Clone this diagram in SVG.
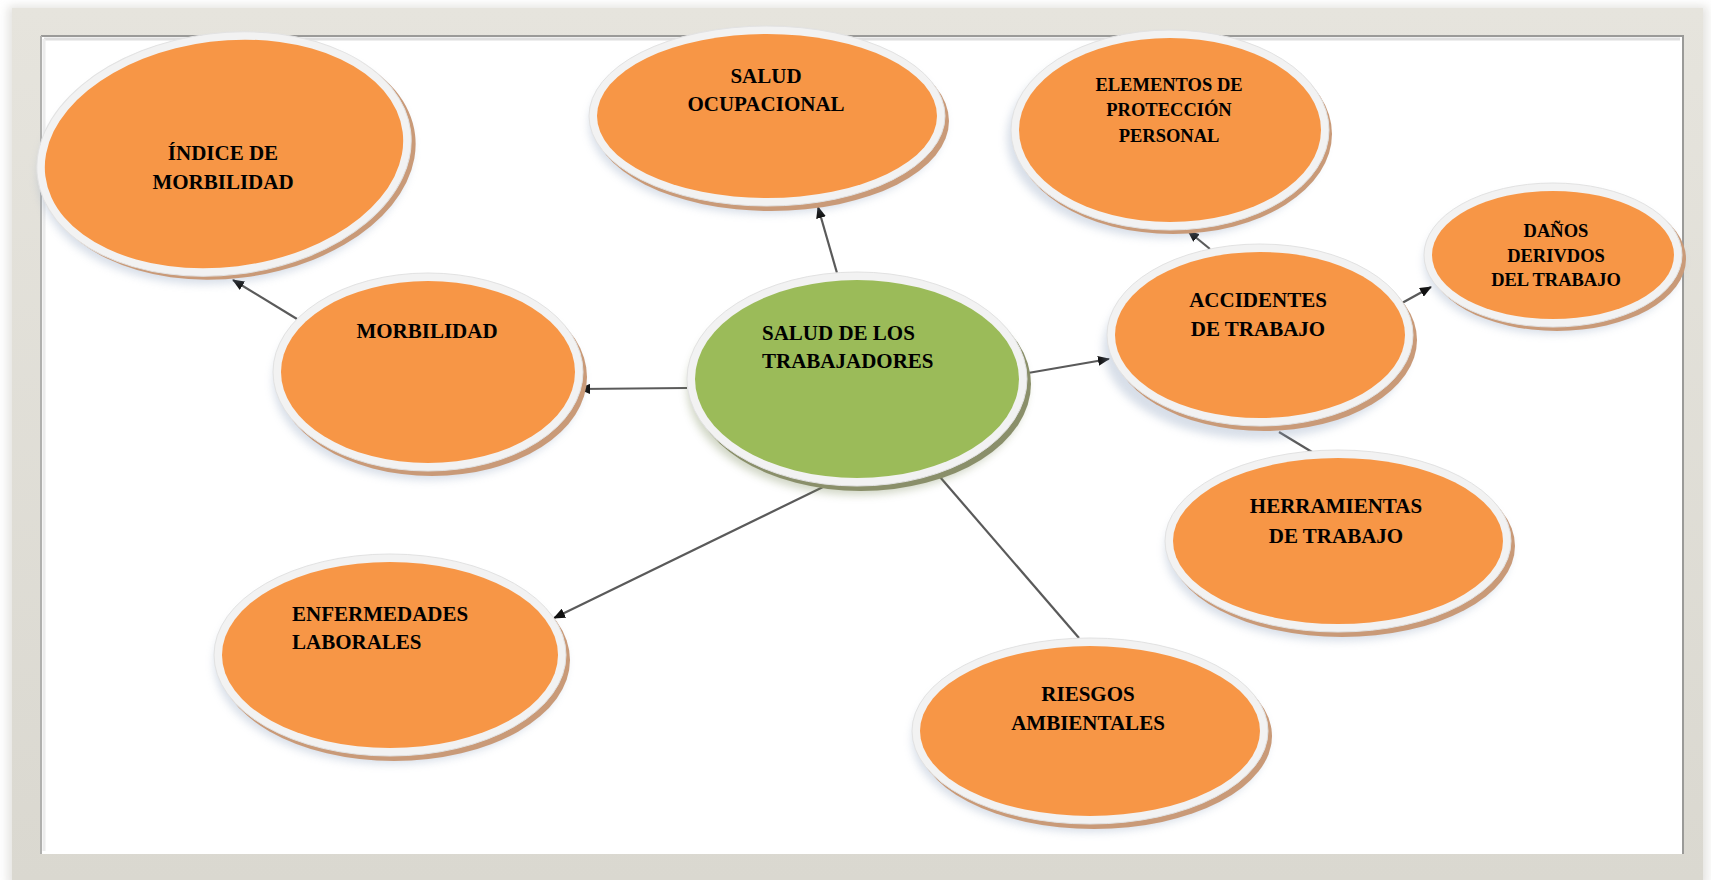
<svg xmlns="http://www.w3.org/2000/svg" width="1711" height="880" viewBox="0 0 1711 880">
<style>
.ring{fill:#f2f2f2;stroke:#e2e2e2;stroke-width:1}
.orange{fill:#f79646}
.green{fill:#9bbb59}
.sh{fill:#c99a78}
.glow{fill:#8fa3bf;opacity:0.35;filter:url(#blur)}
.glowg{fill:#7a8a5a;opacity:0.35;filter:url(#blur)}
.t{font-family:"Liberation Serif","Times New Roman",serif;font-weight:bold;font-size:21px;fill:#000}
.ts{font-family:"Liberation Serif","Times New Roman",serif;font-weight:bold;font-size:18.5px;fill:#000}
.c{text-anchor:middle}
.ln{stroke:#5a5a5a;stroke-width:2.2;fill:none}
</style>
<defs>
<filter id="blur" x="-20%" y="-20%" width="140%" height="140%"><feGaussianBlur stdDeviation="4"/></filter>
<filter id="fblur" x="-5%" y="-5%" width="110%" height="110%"><feGaussianBlur stdDeviation="5"/></filter>
<marker id="arr" markerUnits="userSpaceOnUse" markerWidth="12" markerHeight="10" refX="11" refY="5" orient="auto">
<path d="M0,0 L12,5 L0,10 z" fill="#111"/>
</marker>
<linearGradient id="frameTop" x1="0" y1="0" x2="0" y2="1">
<stop offset="0" stop-color="#e6e4dd"/><stop offset="1" stop-color="#dad8d0"/>
</linearGradient>
</defs>
<rect x="0" y="0" width="1711" height="880" fill="#ffffff"/>
<!-- frame -->
<g id="frame">
<rect x="8" y="6" width="1699" height="880" fill="#c8c6c0" opacity="0.5" filter="url(#fblur)"/>
<rect x="12" y="8" width="1691" height="872" fill="url(#frameTop)"/>
<rect x="41" y="36" width="1643" height="818" fill="#ffffff"/>
<path d="M41,36 L1684,36" stroke="#9a9a98" stroke-width="2"/>
<path d="M41,36 L41,854" stroke="#b0b0ae" stroke-width="2"/>
<path d="M1683,36 L1683,854" stroke="#9a9a98" stroke-width="2"/>
<path d="M44,39 L1680,39" stroke="#dedede" stroke-width="3"/>
<path d="M44,39 L44,851" stroke="#ececec" stroke-width="3"/>
</g>
<!-- connectors -->
<g id="connectors">
<line class="ln" x1="837" y1="273" x2="818" y2="207" marker-end="url(#arr)"/>
<line class="ln" x1="687" y1="388" x2="579" y2="389" marker-end="url(#arr)"/>
<line class="ln" x1="297" y1="319" x2="233" y2="280" marker-end="url(#arr)"/>
<line class="ln" x1="1028" y1="373" x2="1109" y2="359" marker-end="url(#arr)"/>
<line class="ln" x1="1210" y1="249" x2="1188" y2="231" marker-end="url(#arr)"/>
<line class="ln" x1="1402" y1="303" x2="1431" y2="287" marker-end="url(#arr)"/>
<line class="ln" x1="1312" y1="452" x2="1279" y2="432"/>
<line class="ln" x1="823" y1="487" x2="554" y2="618" marker-end="url(#arr)"/>
<line class="ln" x1="940" y1="477" x2="1079" y2="638"/>
</g>
<!-- nodes -->
<g id="indice" transform="rotate(-7 224 154)">
<ellipse class="glow" cx="224" cy="162" rx="188" ry="121"/>
<ellipse class="sh" cx="228" cy="158" rx="188" ry="121"/>
<ellipse class="ring" cx="224" cy="154" rx="188" ry="121"/>
<ellipse class="orange" cx="224" cy="154" rx="180" ry="113"/>
</g>
<g id="indice-text">
<text class="t c" x="223" y="160">ÍNDICE DE</text>
<text class="t c" x="223" y="189">MORBILIDAD</text>
</g>
<g id="salud-ocupacional">
<ellipse class="glow" cx="767" cy="124" rx="178" ry="90"/>
<ellipse class="sh" cx="771" cy="121" rx="178" ry="90"/>
<ellipse class="ring" cx="767" cy="116" rx="178" ry="90"/>
<ellipse class="orange" cx="767" cy="116" rx="170" ry="82"/>
<text class="t c" x="766" y="83">SALUD</text>
<text class="t c" x="766" y="111">OCUPACIONAL</text>
</g>
<g id="elementos">
<ellipse class="glow" cx="1166" cy="138" rx="159" ry="100"/>
<ellipse class="sh" cx="1173" cy="134" rx="159" ry="100"/>
<ellipse class="ring" cx="1170" cy="130" rx="159" ry="100"/>
<ellipse class="orange" cx="1170" cy="130" rx="151" ry="92"/>
<text class="ts c" x="1169" y="91">ELEMENTOS DE</text>
<text class="ts c" x="1169" y="116">PROTECCIÓN</text>
<text class="ts c" x="1169" y="142">PERSONAL</text>
</g>
<g id="danos">
<ellipse class="glow" cx="1553" cy="262" rx="129" ry="72"/>
<ellipse class="sh" cx="1557" cy="259" rx="129" ry="72"/>
<ellipse class="ring" cx="1553" cy="255" rx="129" ry="72"/>
<ellipse class="orange" cx="1553" cy="255" rx="121" ry="64"/>
<text class="ts c" x="1556" y="237">DAÑOS</text>
<text class="ts c" x="1556" y="262">DERIVDOS</text>
<text class="ts c" x="1556" y="286">DEL TRABAJO</text>
</g>
<g id="morbilidad">
<ellipse class="glow" cx="428" cy="381" rx="155" ry="99"/>
<ellipse class="sh" cx="432" cy="377" rx="155" ry="99"/>
<ellipse class="ring" cx="428" cy="372" rx="155" ry="99"/>
<ellipse class="orange" cx="428" cy="372" rx="147" ry="91"/>
<text class="t c" x="427" y="338">MORBILIDAD</text>
</g>
<g id="salud-trabajadores">
<ellipse class="glowg" cx="857" cy="388" rx="170" ry="107"/>
<ellipse fill="#8a8f6a" cx="861" cy="384" rx="170" ry="107"/>
<ellipse class="ring" cx="857" cy="379" rx="170" ry="107"/>
<ellipse class="green" cx="857" cy="379" rx="162" ry="99"/>
<text class="t" x="762" y="340">SALUD DE LOS</text>
<text class="t" x="762" y="368">TRABAJADORES</text>
</g>
<g id="accidentes">
<ellipse class="glow" cx="1256" cy="348" rx="153" ry="91"/>
<ellipse class="sh" cx="1264" cy="340" rx="153" ry="91"/>
<ellipse class="ring" cx="1260" cy="335" rx="153" ry="91"/>
<ellipse class="orange" cx="1260" cy="335" rx="145" ry="83"/>
<text class="t c" x="1258" y="307">ACCIDENTES</text>
<text class="t c" x="1258" y="336">DE TRABAJO</text>
</g>
<g id="herramientas">
<ellipse class="glow" cx="1338" cy="550" rx="173" ry="91"/>
<ellipse class="sh" cx="1342" cy="546" rx="173" ry="91"/>
<ellipse class="ring" cx="1338" cy="541" rx="173" ry="91"/>
<ellipse class="orange" cx="1338" cy="541" rx="165" ry="83"/>
<text class="t c" x="1336" y="513">HERRAMIENTAS</text>
<text class="t c" x="1336" y="543">DE TRABAJO</text>
</g>
<g id="enfermedades">
<ellipse class="glow" cx="390" cy="663" rx="176" ry="101"/>
<ellipse class="sh" cx="394" cy="660" rx="176" ry="101"/>
<ellipse class="ring" cx="390" cy="655" rx="176" ry="101"/>
<ellipse class="orange" cx="390" cy="655" rx="168" ry="93"/>
<text class="t" x="292" y="621">ENFERMEDADES</text>
<text class="t" x="292" y="649">LABORALES</text>
</g>
<g id="riesgos">
<ellipse class="glow" cx="1090" cy="739" rx="178" ry="93"/>
<ellipse class="sh" cx="1094" cy="736" rx="178" ry="93"/>
<ellipse class="ring" cx="1090" cy="731" rx="178" ry="93"/>
<ellipse class="orange" cx="1090" cy="731" rx="170" ry="85"/>
<text class="t c" x="1088" y="701">RIESGOS</text>
<text class="t c" x="1088" y="730">AMBIENTALES</text>
</g>
</svg>
